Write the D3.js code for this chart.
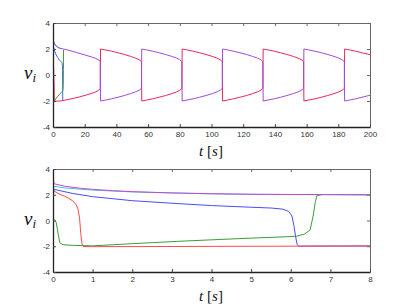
<!DOCTYPE html>
<html>
<head>
<meta charset="utf-8">
<script src="https://cdn.jsdelivr.net/npm/d3@7"></script>
<style>
  body { margin: 0; background: #fff; }
  svg { display: block; }
  .tick text { font-family: "Liberation Sans", Arial, sans-serif; font-size: 8px; fill: #333; }
  .lab { font-family: "Liberation Serif", "DejaVu Serif", serif; fill: #111; }
</style>
</head>
<body>
<div id="chart"></div>
<script>
// ---- data ----

// tick labels
let yTicks = [-4, -2, 0, 2, 4];
let yTickLabels = ['-4', '-2', '0', '2', '4'];
let topXTicks = [0, 20, 40, 60, 80, 100, 120, 140, 160, 180, 200];
let bottomXTicks = [0, 1, 2, 3, 4, 5, 6, 7, 8];

// first 8 seconds (bottom panel), [t, v]
let magentaStart = [[0, 4.0], [0.02, 2.86], [0.3, 2.66], [0.7, 2.5], [1, 2.42], [1.5, 2.32], [2, 2.24], [3, 2.14], [4, 2.08], [5, 2.04], [6, 2.02], [8, 2.0]];
let cyanStart = [[0, 1.2], [0.02, 2.66], [0.3, 2.53], [1, 2.36], [2, 2.22], [3, 2.14], [4, 2.07], [5, 2.03], [8, 2.0]];
let blueStart = [[0, 1.1], [0.02, 2.42], [0.5, 2.1], [1, 1.85], [2, 1.54], [3, 1.34], [4, 1.16], [5, 1.03], [5.5, 0.97], [5.8, 0.88], [5.95, 0.7], [6.03, 0.35], [6.08, -0.4], [6.12, -1.2], [6.16, -1.85], [6.2, -1.99], [8, -1.98]];
let redStart = [[0, 2.35], [0.1, 2.15], [0.2, 2.0], [0.3, 1.88], [0.4, 1.72], [0.5, 1.52], [0.58, 1.25], [0.63, 0.9], [0.67, 0.2], [0.7, -1.0], [0.73, -1.8], [0.76, -2.02], [1, -2.03], [3, -2.02], [5, -2.0], [8, -1.98]];
let greenStart = [[0, 0.1], [0.04, 0.05], [0.08, -0.14], [0.13, -1.03], [0.17, -1.72], [0.25, -1.88], [0.5, -1.93], [1, -1.97], [2, -1.8], [3, -1.64], [4, -1.5], [5, -1.37], [5.9, -1.26], [6.15, -1.22], [6.35, -1.05], [6.49, -0.73], [6.57, 0.43], [6.62, 1.46], [6.66, 1.93], [6.8, 2.02], [8, 2.0]];

// 0 - 200 s (top panel), [t, v]
let redLong = [[0, 2.35], [0.7, -1.0], [0.8, -2.02], [4, -2.0], [7, -1.95], [12, -1.82], [17, -1.68], [22, -1.5], [26, -1.35], [28.5, -1.2], [29.8, -1.05],
  [30, 2.0], [33, 1.93], [37, 1.83], [41, 1.71], [45, 1.58], [49, 1.43], [52, 1.3], [54.5, 1.17], [55.8, 1.03],
  [56, -2.0], [59, -1.93], [63, -1.83], [67, -1.71], [71, -1.58], [75, -1.43], [78, -1.3], [80, -1.17], [81.3, -1.03],
  [81.5, 2.0], [84.5, 1.93], [88.5, 1.83], [92.5, 1.71], [96.5, 1.58], [100.5, 1.43], [103.5, 1.3], [105.5, 1.17], [106.8, 1.03],
  [107, -2.0], [110, -1.93], [114, -1.83], [118, -1.71], [122, -1.58], [126, -1.43], [129, -1.3], [131.2, -1.17], [132.4, -1.03],
  [132.6, 2.0], [135.6, 1.93], [139.6, 1.83], [143.6, 1.71], [147.6, 1.58], [151.6, 1.43], [154.6, 1.3], [156.8, 1.17], [158.1, 1.03],
  [158.3, -2.0], [161.3, -1.93], [165.3, -1.83], [169.3, -1.71], [173.3, -1.58], [177.3, -1.43], [180.3, -1.3], [182.5, -1.17], [183.8, -1.03],
  [184, 2.0], [187, 1.93], [191, 1.83], [195, 1.71], [200, 1.56]];
let purpleLong = [[0, 2.7], [1, 2.42], [2, 2.24], [3, 2.14], [4, 2.08], [5, 2.04], [6.6, 2.0], [10, 1.9], [15, 1.72], [20, 1.55], [24, 1.4], [27, 1.27], [29, 1.15], [29.8, 1.03],
  [30, -2.0], [33, -1.93], [37, -1.83], [41, -1.71], [45, -1.58], [49, -1.43], [52, -1.3], [54.5, -1.17], [55.8, -1.03],
  [56, 2.0], [59, 1.93], [63, 1.83], [67, 1.71], [71, 1.58], [75, 1.43], [78, 1.3], [80, 1.17], [81.3, 1.03],
  [81.5, -2.0], [84.5, -1.93], [88.5, -1.83], [92.5, -1.71], [96.5, -1.58], [100.5, -1.43], [103.5, -1.3], [105.5, -1.17], [106.8, -1.03],
  [107, 2.0], [110, 1.93], [114, 1.83], [118, 1.71], [122, 1.58], [126, 1.43], [129, 1.3], [131.2, 1.17], [132.4, 1.03],
  [132.6, -2.0], [135.6, -1.93], [139.6, -1.83], [143.6, -1.71], [147.6, -1.58], [151.6, -1.43], [154.6, -1.3], [156.8, -1.17], [158.1, -1.03],
  [158.3, 2.0], [161.3, 1.93], [165.3, 1.83], [169.3, 1.71], [173.3, 1.58], [177.3, 1.43], [180.3, 1.3], [182.5, 1.17], [183.8, 1.03],
  [184, -2.0], [187, -1.93], [191, -1.83], [195, -1.71], [200, -1.56]];

// ---- drawing ----
let width = 409, height = 308;
let svg = d3.select('#chart').append('svg')
  .attr('width', width)
  .attr('height', height);

function drawPanel(p) {
  let x = d3.scaleLinear().domain(p.xDomain).range([53, 370]);
  let y = d3.scaleLinear().domain([-4, 4]).range([p.bottom, p.top]);
  let g = svg.append('g');

  // clip lines to the box
  let clipId = 'clip' + p.top;
  svg.append('clipPath').attr('id', clipId)
    .append('rect').attr('x', 53).attr('y', p.top).attr('width', 317).attr('height', p.bottom - p.top);

  // top and right edges with inward ticks
  g.append('g')
    .attr('transform', 'translate(0,' + p.top + ')')
    .call(d3.axisTop(x).tickValues(p.xTicks).tickSizeInner(-3).tickSizeOuter(0).tickFormat(''))
    .call(a => a.selectAll('line,path').attr('stroke', '#666'));
  g.append('g')
    .attr('transform', 'translate(370,0)')
    .call(d3.axisRight(y).tickValues(yTicks).tickSizeInner(-3).tickSizeOuter(0).tickFormat(''))
    .call(a => a.selectAll('line,path').attr('stroke', '#666'));

  let lines = g.append('g').attr('clip-path', 'url(#' + clipId + ')');
  let line = d3.line().x(d => x(d[0])).y(d => y(d[1]));
  p.series.forEach(s => {
    lines.append('path')
      .attr('d', line(s.values))
      .attr('fill', 'none')
      .attr('stroke', s.color)
      .attr('stroke-width', 1)
      .attr('stroke-linejoin', 'round');
  });

  // bottom and left axes with inward ticks
  g.append('g')
    .attr('transform', 'translate(0,' + p.bottom + ')')
    .call(d3.axisBottom(x).tickValues(p.xTicks).tickSizeInner(-3).tickSizeOuter(0).tickPadding(4))
    .call(a => a.selectAll('line').attr('stroke', '#444'))
    .call(a => a.select('.domain').attr('stroke', '#222').attr('stroke-width', 1.3));
  g.append('g')
    .attr('transform', 'translate(53,0)')
    .call(d3.axisLeft(y).tickValues(yTicks).tickSizeInner(-3).tickSizeOuter(0).tickPadding(3)
      .tickFormat((d, i) => yTickLabels[i]))
    .call(a => a.selectAll('line').attr('stroke', '#444'))
    .call(a => a.select('.domain').attr('stroke', '#222').attr('stroke-width', 1.3));

  // axis labels
  let yl = g.append('text').attr('class', 'lab')
    .attr('x', 24).attr('y', y(0) + 4);
  yl.append('tspan').attr('font-style', 'italic').attr('font-size', 19).text('v');
  yl.append('tspan').attr('font-style', 'italic').attr('font-size', 13).attr('dy', 3).text('i');

  let xl = g.append('text').attr('class', 'lab')
    .attr('x', 211).attr('y', p.bottom + 29)
    .attr('text-anchor', 'middle').attr('font-size', 15);
  xl.append('tspan').attr('font-style', 'italic').text('t');
  xl.append('tspan').text(' [');
  xl.append('tspan').attr('font-style', 'italic').text('s');
  xl.append('tspan').text(']');
}

drawPanel({
  top: 23, bottom: 127, xDomain: [0, 200], xTicks: topXTicks,
  series: [
    { values: blueStart.filter(d => d[0] <= 6.25), color: '#4a5cff' },
    { values: greenStart.filter(d => d[0] <= 6.7), color: '#3a9a3a' },
    { values: cyanStart.filter(d => d[0] <= 5), color: '#40b8d0' },
    { values: redLong, color: '#e8285a' },
    { values: purpleLong, color: '#a24ad6' }
  ]
});

drawPanel({
  top: 169, bottom: 272, xDomain: [0, 8], xTicks: bottomXTicks,
  series: [
    { values: blueStart, color: '#4a4cff' },
    { values: greenStart, color: '#3a9e3a' },
    { values: redStart, color: '#ff4a4a' },
    { values: cyanStart, color: '#40c8d8' },
    { values: magentaStart, color: '#c848d0' }
  ]
});
</script>
</body>
</html>
